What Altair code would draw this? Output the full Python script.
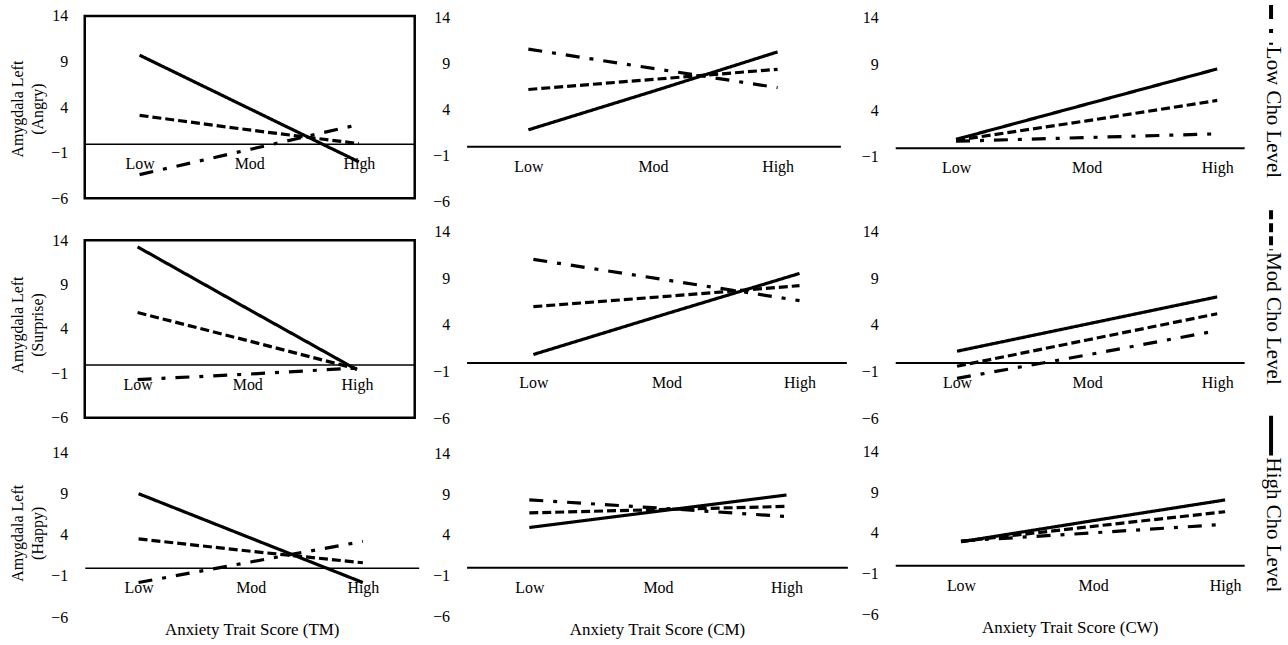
import altair as alt
import pandas as pd

FONT = "Liberation Serif"

LEVELS = ["Low", "Mod", "High"]
SERIES = ["Low Cho Level", "Mod Cho Level", "High Cho Level"]
Y_TICKS = [-6, -1, 4, 9, 14]
EMOTIONS = ["Angry", "Surprise", "Happy"]
MEASURES = ["TM", "CM", "CW"]

# values at Low / Mod / High anxiety for each Cho level
ANGRY_TM = {"Low Cho Level": [-3.4, -0.65, 2.1], "Mod Cho Level": [3.1, 1.5, 0.0], "High Cho Level": [9.7, 3.85, -2.0]}
ANGRY_CM = {"Low Cho Level": [10.6, 8.5, 6.4], "Mod Cho Level": [6.2, 7.3, 8.4], "High Cho Level": [1.8, 6.0, 10.3]}
ANGRY_CW = {"Low Cho Level": [0.7, 1.1, 1.5], "Mod Cho Level": [0.8, 2.9, 5.1], "High Cho Level": [0.9, 4.7, 8.5]}

SURPRISE_TM = {"Low Cho Level": [-1.7, -1.1, -0.4], "Mod Cho Level": [5.85, 2.7, -0.5], "High Cho Level": [13.25, 6.3, -0.6]}
SURPRISE_CM = {"Low Cho Level": [11.0, 8.8, 6.6], "Mod Cho Level": [5.95, 7.05, 8.2], "High Cho Level": [0.85, 5.2, 9.5]}
SURPRISE_CW = {"Low Cho Level": [-1.7, 0.8, 3.4], "Mod Cho Level": [-0.4, 2.4, 5.2], "High Cho Level": [1.2, 4.1, 7.0]}

HAPPY_TM = {"Low Cho Level": [-1.8, 0.7, 3.2], "Mod Cho Level": [3.5, 2.0, 0.6], "High Cho Level": [9.0, 3.6, -1.8]}
HAPPY_CM = {"Low Cho Level": [8.3, 7.3, 6.25], "Mod Cho Level": [6.7, 7.1, 7.5], "High Cho Level": [4.9, 6.9, 8.9]}
HAPPY_CW = {"Low Cho Level": [3.0, 4.0, 5.05], "Mod Cho Level": [2.95, 4.8, 6.6], "High Cho Level": [2.9, 5.5, 8.05]}

PANELS = [
    [ANGRY_TM, ANGRY_CM, ANGRY_CW],
    [SURPRISE_TM, SURPRISE_CM, SURPRISE_CW],
    [HAPPY_TM, HAPPY_CM, HAPPY_CW],
]

# layout (styling only): width, height, x-domain, y-domain
LAYOUT = [
    [(331, 186, [-0.5, 2.509], [-6.33, 14]),
     (375, 186, [-0.496, 2.504], [-6.0, 14.22]),
     (350, 186, [-0.466, 2.206], [-5.785, 14.215])],
    [(331, 187, [-0.482, 2.527], [-6, 15.01]),
     (381, 188, [-0.502, 2.352], [-6, 14]),
     (350, 188, [-0.475, 2.207], [-6, 14])],
    [(335, 169, [-0.48, 2.498], [-6, 14.48]),
     (382, 168, [-0.488, 2.473], [-6, 14.61]),
     (350, 166, [-0.498, 2.144], [-6, 14.37])],
]

DASH_RANGE = [[14, 10, 4, 10], [9, 4], [1, 0]]


def to_frame(vals):
    recs = []
    for s in SERIES:
        for i, lev in enumerate(LEVELS):
            recs.append({"series": s, "level": lev, "xi": i, "value": vals[s][i]})
    return pd.DataFrame(recs)


label_expr = "[" + ",".join("'%s'" % l for l in LEVELS) + "][datum.value]"


def legend_layer(width, height):
    step = 206.0
    d0 = 11 / step  # first legend item starts 11px above the panel top
    lscale = alt.Scale(domain=[d0, d0 + height / step], reverse=True, nice=False, zero=False)
    legend_df = pd.DataFrame({"series": SERIES, "i": list(range(len(SERIES)))})
    lbase = alt.Chart(legend_df).transform_calculate(
        y0="datum.i", y1="datum.i + %f" % (40 / step), yt="datum.i + %f" % (42 / step)
    )
    lsym = lbase.mark_rule(color="black", strokeWidth=4).encode(
        x=alt.value(width + 27),
        y=alt.Y("y0:Q", scale=lscale, axis=None),
        y2="y1:Q",
        strokeDash=alt.StrokeDash("series:N", legend=None),
    )
    ltxt = lbase.mark_text(angle=90, align="left", baseline="middle", fontSize=21, font=FONT,
                           color="black").encode(
        x=alt.value(width + 29),
        y=alt.Y("yt:Q", scale=lscale, axis=None),
        text="series:N",
    )
    return [lsym, ltxt]


def panel(r, c):
    width, height, xdom, ydom = LAYOUT[r][c]
    ymin, ymax = ydom
    df = to_frame(PANELS[r][c])
    offset = -height * (0 - ymin) / (ymax - ymin)
    xtitle = "Anxiety Trait Score (%s)" % MEASURES[c] if r == 2 else None
    ytitle = ["Amygdala Left", "(%s)" % EMOTIONS[r]] if c == 0 else None
    xaxis = alt.Axis(values=list(range(len(LEVELS))), labelExpr=label_expr, offset=offset,
                     domainColor="black", domainWidth=1.5 if c == 0 else 2, ticks=False, grid=False,
                     labelPadding=12, labelFontSize=16, labelFlush=False, titleFontSize=17,
                     titlePadding=26, title=xtitle)
    yaxis = alt.Axis(values=Y_TICKS, domain=False, ticks=False, grid=False, labelPadding=17,
                     labelFontSize=16, labelFlush=False, titleFontSize=16, titlePadding=5,
                     titleLineHeight=20, title=ytitle)
    xs = alt.Scale(domain=xdom, nice=False, zero=False)
    ys = alt.Scale(domain=[ymin, ymax], nice=False, zero=False)
    lines = alt.Chart(df).mark_line(color="black", strokeWidth=3.2).encode(
        x=alt.X("xi:Q", scale=xs, axis=xaxis),
        y=alt.Y("value:Q", scale=ys, axis=yaxis),
        strokeDash=alt.StrokeDash("series:N", scale=alt.Scale(domain=SERIES, range=DASH_RANGE), legend=None),
        detail="series:N",
    )
    layers = []
    if c == 0 and r < 2:
        box_df = pd.DataFrame({"bx0": [xdom[0]], "bx1": [xdom[1]],
                               "by0": [min(Y_TICKS)], "by1": [max(Y_TICKS)]})
        box = alt.Chart(box_df).mark_rect(filled=False, stroke="black", strokeWidth=2.5).encode(
            x=alt.X("bx0:Q", scale=xs, axis=xaxis),
            x2="bx1:Q",
            y=alt.Y("by0:Q", scale=ys, axis=yaxis),
            y2="by1:Q",
        )
        layers.append(box)
    layers.append(lines)
    out = alt.layer(*layers)
    if r == 0 and c == 2:
        out = alt.layer(*layers, *legend_layer(width, height)).resolve_scale(y="independent")
    return out.properties(width=width, height=height)


charts = [panel(r, c) for r in range(3) for c in range(3)]

chart = alt.concat(
    *charts, columns=3, spacing={"row": 30, "column": 48}, bounds="flush", align="none"
).properties(
    padding={"left": 9, "top": 2, "right": 4, "bottom": 0}, background="white"
).configure(font=FONT).configure_view(stroke=None).configure_axis(
    labelFont=FONT, titleFont=FONT, labelColor="black", titleColor="black", titleFontWeight="normal"
)

chart.save("out.html", embed_options={"renderer": "svg", "actions": False})
